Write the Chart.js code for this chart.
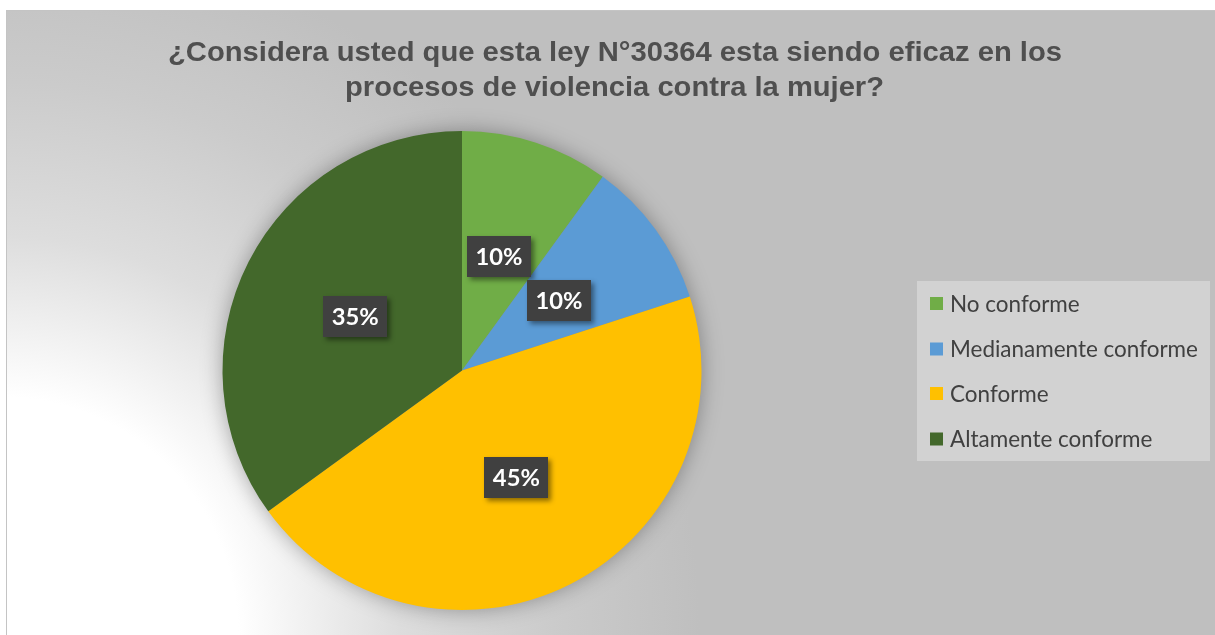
<!DOCTYPE html>
<html><head><meta charset="utf-8">
<script src="https://cdn.jsdelivr.net/npm/chart.js@4.4.1/dist/chart.umd.min.js"></script>
<style>html,body{margin:0;padding:0;background:#fff;overflow:hidden}canvas{display:block}</style>
</head><body>
<canvas id="c" width="1215" height="635" style="width:1215px;height:635px"></canvas>
<script>
const titleLines = ['¿Considera usted que esta ley N°30364 esta siendo eficaz en los', 'procesos de violencia contra la mujer?'];
const categories = ['No conforme', 'Medianamente conforme', 'Conforme', 'Altamente conforme'];
const values = [10, 10, 45, 35];
const sliceColors = ['#70AD47', '#5B9BD5', '#FFC000', '#43682B'];

function fitFont(ctx, text, weight, family, target) {
  ctx.font = weight + ' 20px ' + family;
  return 20 * target / ctx.measureText(text).width;
}

const decor = {
  id: 'decor',
  beforeDraw(chart) {
    const ctx = chart.ctx;
    ctx.save();
    ctx.fillStyle = '#fff';
    ctx.fillRect(0, 0, 1215, 635);
    // frame background with radial gradient from the lower-left corner
    ctx.save();
    ctx.beginPath();
    ctx.rect(6, 10, 1215, 640);
    ctx.clip();
    const g = ctx.createRadialGradient(0, 635, 0, 0, 635, 700);
    g.addColorStop(0, '#ffffff');
    g.addColorStop(0.34, '#ffffff');
    g.addColorStop(0.57, '#dddddd');
    g.addColorStop(0.79, '#cbcbcb');
    g.addColorStop(1, '#bfbfbf');
    ctx.fillStyle = g;
    ctx.fillRect(0, 0, 1215, 635);
    ctx.restore();
    ctx.strokeStyle = '#c4c4c4';
    ctx.lineWidth = 1;
    ctx.strokeRect(6.5, 10.5, 1215, 640);

    // title
    ctx.fillStyle = '#4f4f4f';
    ctx.textAlign = 'center';
    ctx.textBaseline = 'alphabetic';
    const fam = '"Liberation Sans Narrow", "Liberation Sans", Arial, sans-serif';
    const targets = [894, 539];
    const baselines = [61, 96];
    const centers = [615, 614.5];
    titleLines.forEach((t, i) => {
      ctx.font = 'bold 27px ' + fam;
      const w = ctx.measureText(t).width;
      ctx.save();
      ctx.translate(centers[i], baselines[i]);
      ctx.scale(targets[i] / w, 1);
      ctx.fillText(t, 0, 0);
      ctx.restore();
    });

    // legend box
    ctx.fillStyle = '#d2d2d2';
    ctx.fillRect(917, 281, 293, 180);
    const lf = fitFont(ctx, 'Medianamente conforme', 'normal', 'Lato, "Open Sans", sans-serif', 248);
    ctx.font = 'normal ' + lf + 'px Lato, "Open Sans", sans-serif';
    ctx.textAlign = 'left';
    ctx.textBaseline = 'middle';
    const ys = [303.5, 349, 393.5, 439];
    categories.forEach((c, i) => {
      ctx.fillStyle = sliceColors[i];
      ctx.fillRect(930, ys[i] - 6.5, 13, 13);
      ctx.fillStyle = '#404040';
      ctx.fillText(c, 950, ys[i] + 1);
    });
    ctx.restore();
  },
  beforeDatasetsDraw(chart) {
    const ctx = chart.ctx;
    const arc = chart.getDatasetMeta(0).data[0];
    if (!arc) return;
    ctx.save();
    ctx.shadowColor = 'rgba(0,0,0,0.35)';
    ctx.shadowBlur = 22;
    ctx.fillStyle = '#888';
    ctx.beginPath();
    ctx.arc(arc.x, arc.y, arc.outerRadius - 1, 0, Math.PI * 2);
    ctx.fill();
    ctx.restore();
  },
  afterDatasetsDraw(chart) {
    const ctx = chart.ctx;
    const total = values.reduce((a, b) => a + b, 0);
    const meta = chart.getDatasetMeta(0);
    const fam = 'Lato, "Open Sans", sans-serif';
    const fs = fitFont(ctx, '10%', 'bold', fam, 47);
    meta.data.forEach((el, i) => {
      const p = el.tooltipPosition();
      const txt = Math.round(values[i] / total * 100) + '%';
      const bw = 64, bh = 41;
      ctx.save();
      ctx.shadowColor = 'rgba(0,0,0,0.45)';
      ctx.shadowBlur = 5;
      ctx.shadowOffsetX = 3;
      ctx.shadowOffsetY = 3;
      ctx.fillStyle = '#404040';
      ctx.fillRect(Math.round(p.x - bw / 2), Math.round(p.y - bh / 2), bw, bh);
      ctx.restore();
      ctx.save();
      ctx.fillStyle = '#ffffff';
      ctx.font = 'bold ' + fs + 'px ' + fam;
      ctx.textAlign = 'center';
      ctx.textBaseline = 'middle';
      ctx.fillText(txt, p.x, p.y + 1);
      ctx.restore();
    });
  }
};

new Chart(document.getElementById('c'), {
  type: 'pie',
  data: {
    labels: categories,
    datasets: [{
      data: values,
      backgroundColor: sliceColors,
      borderWidth: 0
    }]
  },
  options: {
    responsive: false,
    animation: false,
    layout: { padding: { top: 131, bottom: 25, left: 222, right: 513 } },
    plugins: {
      legend: { display: false },
      title: { display: false },
      tooltip: { enabled: false }
    }
  },
  plugins: [decor]
});
</script>
</body></html>
